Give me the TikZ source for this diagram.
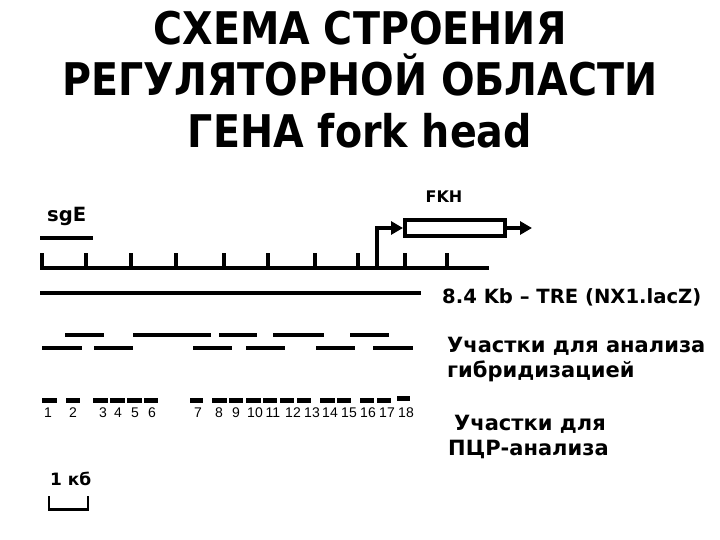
\documentclass[tikz,border=0pt]{standalone}
\usepackage{fontspec}
\setmainfont{DejaVu Sans}
\newfontfamily\titlefont[FakeStretch=0.88]{DejaVu Sans}
\newfontfamily\numfont{Liberation Sans}
\usetikzlibrary{arrows.meta,positioning}

\tikzset{
  gene/.style={line width=4pt},
  probe/.style={line width=4pt},
  pcrseg/.style={line width=5pt},
  lbl/.style={font=\bfseries\fontsize{19.6}{22}\selectfont, inner sep=0pt, anchor=base west},
  biglbl/.style={font=\bfseries\fontsize{21}{25}\selectfont, inner sep=0pt, anchor=base west},
  num/.style={font=\numfont\fontsize{14}{16}\selectfont, inner sep=0pt, anchor=base},
  titletext/.style={font=\titlefont\bfseries\fontsize{45}{50}\selectfont, inner sep=0pt, anchor=base},
  tip/.style={-{Triangle[length=12pt,width=13pt]}},
}

\begin{document}
\begin{tikzpicture}[x=1pt,y=-1pt]
\useasboundingbox[fill=white] (0,0) rectangle (720,540);

% title
\node[titletext] (title1) at (360,45) {СХЕМА СТРОЕНИЯ};
\node[titletext] (title2) at (360,96) {РЕГУЛЯТОРНОЙ ОБЛАСТИ};
\node[titletext] (title3) at (360,148) {ГЕНА fork head};

% enhancer sgE
\node[lbl] (sge) at (47,222) {sgE};
\draw[gene] (40,238) -- (93,238);

% restriction map
\draw[gene] (40,268) -- (489,268);
\foreach \x in {42,86,131,176,224,268,315,358,405,447}
  \draw[gene] (\x,253) -- (\x,268);

% promoter and the FKH gene
\coordinate (tss) at (377,268);
\node[draw, line width=4pt, minimum width=100pt, minimum height=16pt, inner sep=0pt] (fkh) at (455,228) {};
\draw[gene, tip] (tss) |- (fkh.west);
\draw[gene, tip] (fkh.east) -- ++(25,0) coordinate (fkhend);
\node[lbl, font=\bfseries\fontsize{16}{19}\selectfont, anchor=base] (fkhlbl) at (444,203) {FKH};

% 8.4 Kb fragment
\draw[gene] (40,293) -- (421,293) coordinate (treend);
\node[lbl] (tre) at (442,303) {8.4 Kb – TRE (NX1.lacZ)};

% hybridization probes
\foreach \a/\b in {65/104, 133/211, 219/257, 273/324, 350/389}
  \draw[probe] (\a,335) -- (\b,335);
\foreach \a/\b in {42/82, 94/133, 193/232, 246/285, 316/355, 373/413}
  \draw[probe] (\a,348) -- (\b,348);
\node[biglbl] (hyb1) at (447,352) {Участки для анализа};
\node[biglbl] (hyb2) at (447,377) {гибридизацией};

% PCR fragments
\foreach \n/\a/\b/\c in {1/42/57/48, 2/66/80/73, 3/93/108/103, 4/110/125/118,
    5/127/142/135, 6/144/158/152, 7/190/203/198, 8/212/227/219, 9/229/243/236,
    10/246/261/255, 11/263/277/273, 12/280/294/293, 13/297/311/312,
    14/320/335/330, 15/337/351/349, 16/360/374/368, 17/377/391/387}{
  \draw[pcrseg] (\a,400) -- (\b,400);
  \node[num] (n\n) at (\c,417) {\n};
}
\draw[pcrseg] (397,398) -- (410,398);
\node[num] (n18) at (406,417) {18};
\node[biglbl] (pcr1) at (454,430) {Участки для};
\node[biglbl] (pcr2) at (448,455) {ПЦР-анализа};

% scale bar
\node[lbl, font=\bfseries\fontsize{17}{20}\selectfont] (kb) at (50,485) {1 кб};
\coordinate (sbl) at (49,496);
\coordinate (sbr) at (88,496);
\draw[line width=1.2pt] (sbl) -- ++(0,14) -| (sbr);
\draw[line width=3pt] ([yshift=-13pt]sbl) -- ([yshift=-13pt]sbr);
\end{tikzpicture}
\end{document}
